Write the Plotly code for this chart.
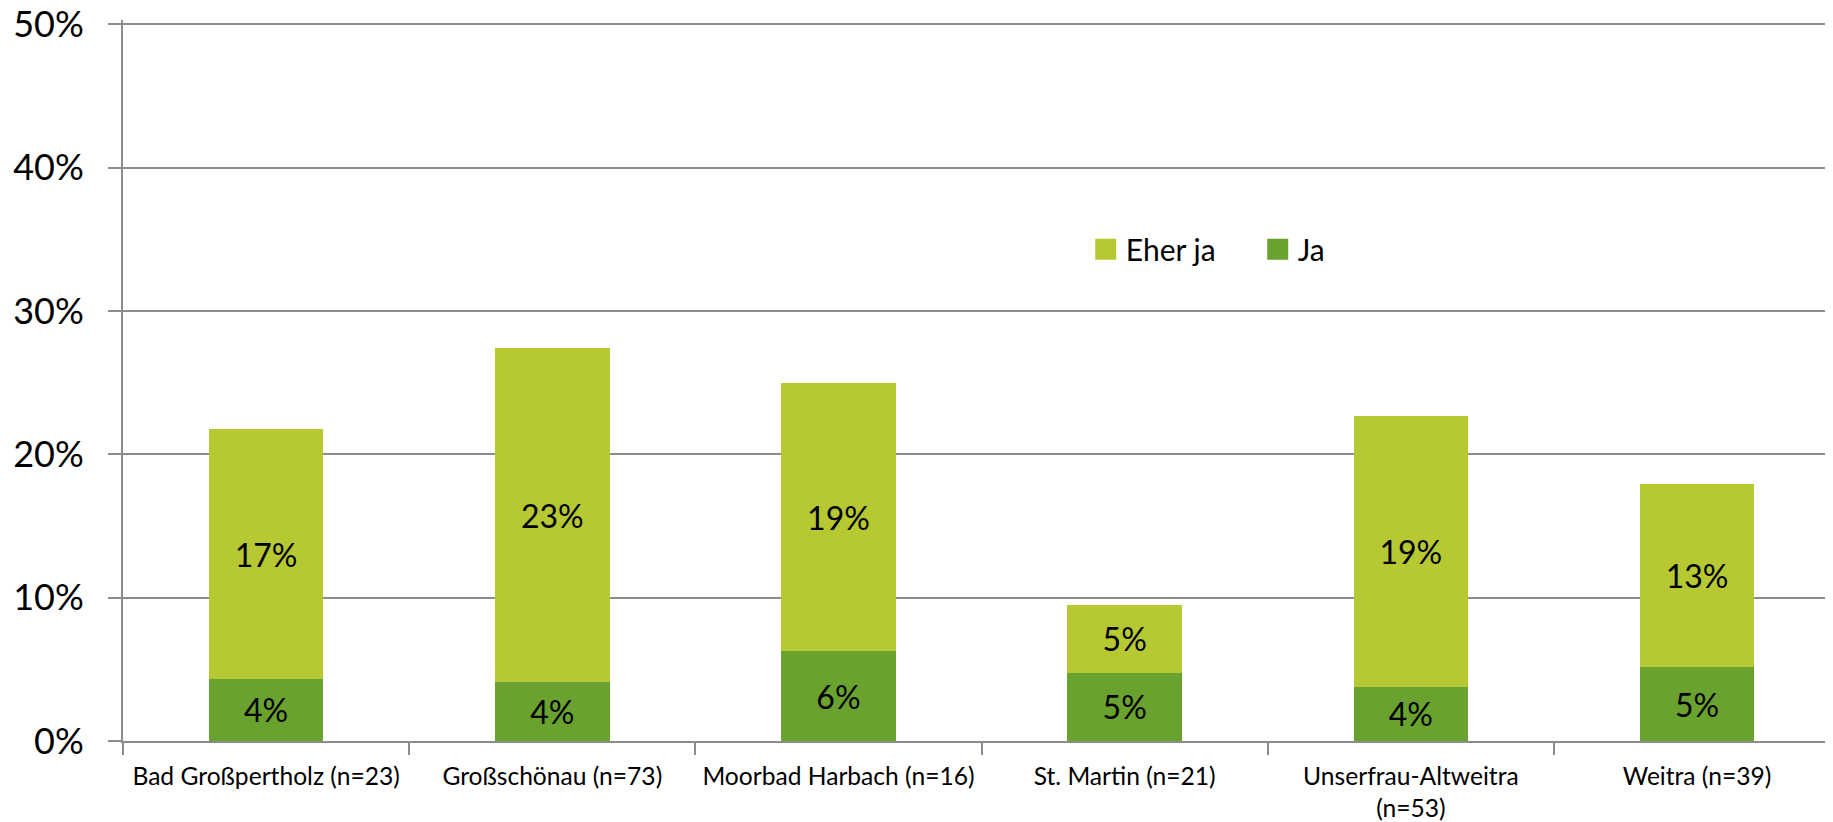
import plotly.graph_objects as go

categories = [
    "Bad Großpertholz (n=23)",
    "Großschönau (n=73)",
    "Moorbad Harbach (n=16)",
    "St. Martin (n=21)",
    "Unserfrau-Altweitra<br>(n=53)",
    "Weitra (n=39)",
]
ja = [4.35, 4.11, 6.25, 4.76, 3.77, 5.13]
eher_ja = [17.39, 23.29, 18.75, 4.76, 18.87, 12.82]
y_ticks = [0, 10, 20, 30, 40, 50]
y_tick_labels = ["0%", "10%", "20%", "30%", "40%", "50%"]

FONT = "Lato"
COL_JA = "#69A22F"
COL_EHER = "#B6C932"

fig = go.Figure()
fig.add_trace(go.Bar(
    x=categories, y=ja, name="Ja", marker=dict(color=COL_JA, line=dict(width=0)),
    texttemplate="%{y:.0f}%", textposition="inside", insidetextanchor="middle",
    textfont=dict(family=FONT, size=32, color="black"), constraintext="none",
    width=0.4, showlegend=False,
))
fig.add_trace(go.Bar(
    x=categories, y=eher_ja, name="Eher ja", marker=dict(color=COL_EHER, line=dict(width=0)),
    texttemplate="%{y:.0f}%", textposition="inside", insidetextanchor="middle",
    textfont=dict(family=FONT, size=32, color="black"), constraintext="none",
    width=0.4, showlegend=False,
))
# legend entries (no data points) with larger square swatches
for nm, col in [("Eher ja", COL_EHER), ("Ja", COL_JA)]:
    fig.add_trace(go.Scatter(
        x=[None], y=[None], mode="markers", name=nm,
        marker=dict(symbol="square", size=16, color=col, line=dict(color=col, width=5)),
        showlegend=True, hoverinfo="skip",
    ))

fig.update_layout(
    width=1825, height=814,
    barmode="stack",
    plot_bgcolor="white", paper_bgcolor="white",
    margin=dict(l=115, r=0, t=12, b=81, autoexpand=False),
    font=dict(family=FONT, color="black"),
    showlegend=True,
    legend=dict(
        orientation="h", traceorder="normal",
        x=0.563, xanchor="left", y=0.682, yanchor="middle",
        font=dict(family=FONT, size=30, color="black"),
        entrywidth=127, bgcolor="rgba(0,0,0,0)", itemsizing="trace",
    ),
)
fig.update_xaxes(
    range=[-0.5, 5.475], automargin=False,
    showline=True, linecolor="#8C8C8C", linewidth=2,
    ticks="outside", tickson="boundaries", ticklen=12, tickcolor="#8C8C8C", tickwidth=2,
    tickfont=dict(family=FONT, size=24.6, color="black"),
    showgrid=False, ticklabelstandoff=12,
)
fig.update_yaxes(
    range=[0, 50.3], automargin=False,
    tickvals=y_ticks, ticktext=y_tick_labels,
    showline=True, linecolor="#8C8C8C", linewidth=2,
    ticks="outside", ticklen=13, tickcolor="#8C8C8C", tickwidth=2,
    tickfont=dict(family=FONT, size=36, color="black"),
    showgrid=True, gridcolor="#8C8C8C", gridwidth=2,
    zeroline=False,
    ticklabelstandoff=17, ticklabeloverflow="allow",
)

fig.write_html("out.html")
